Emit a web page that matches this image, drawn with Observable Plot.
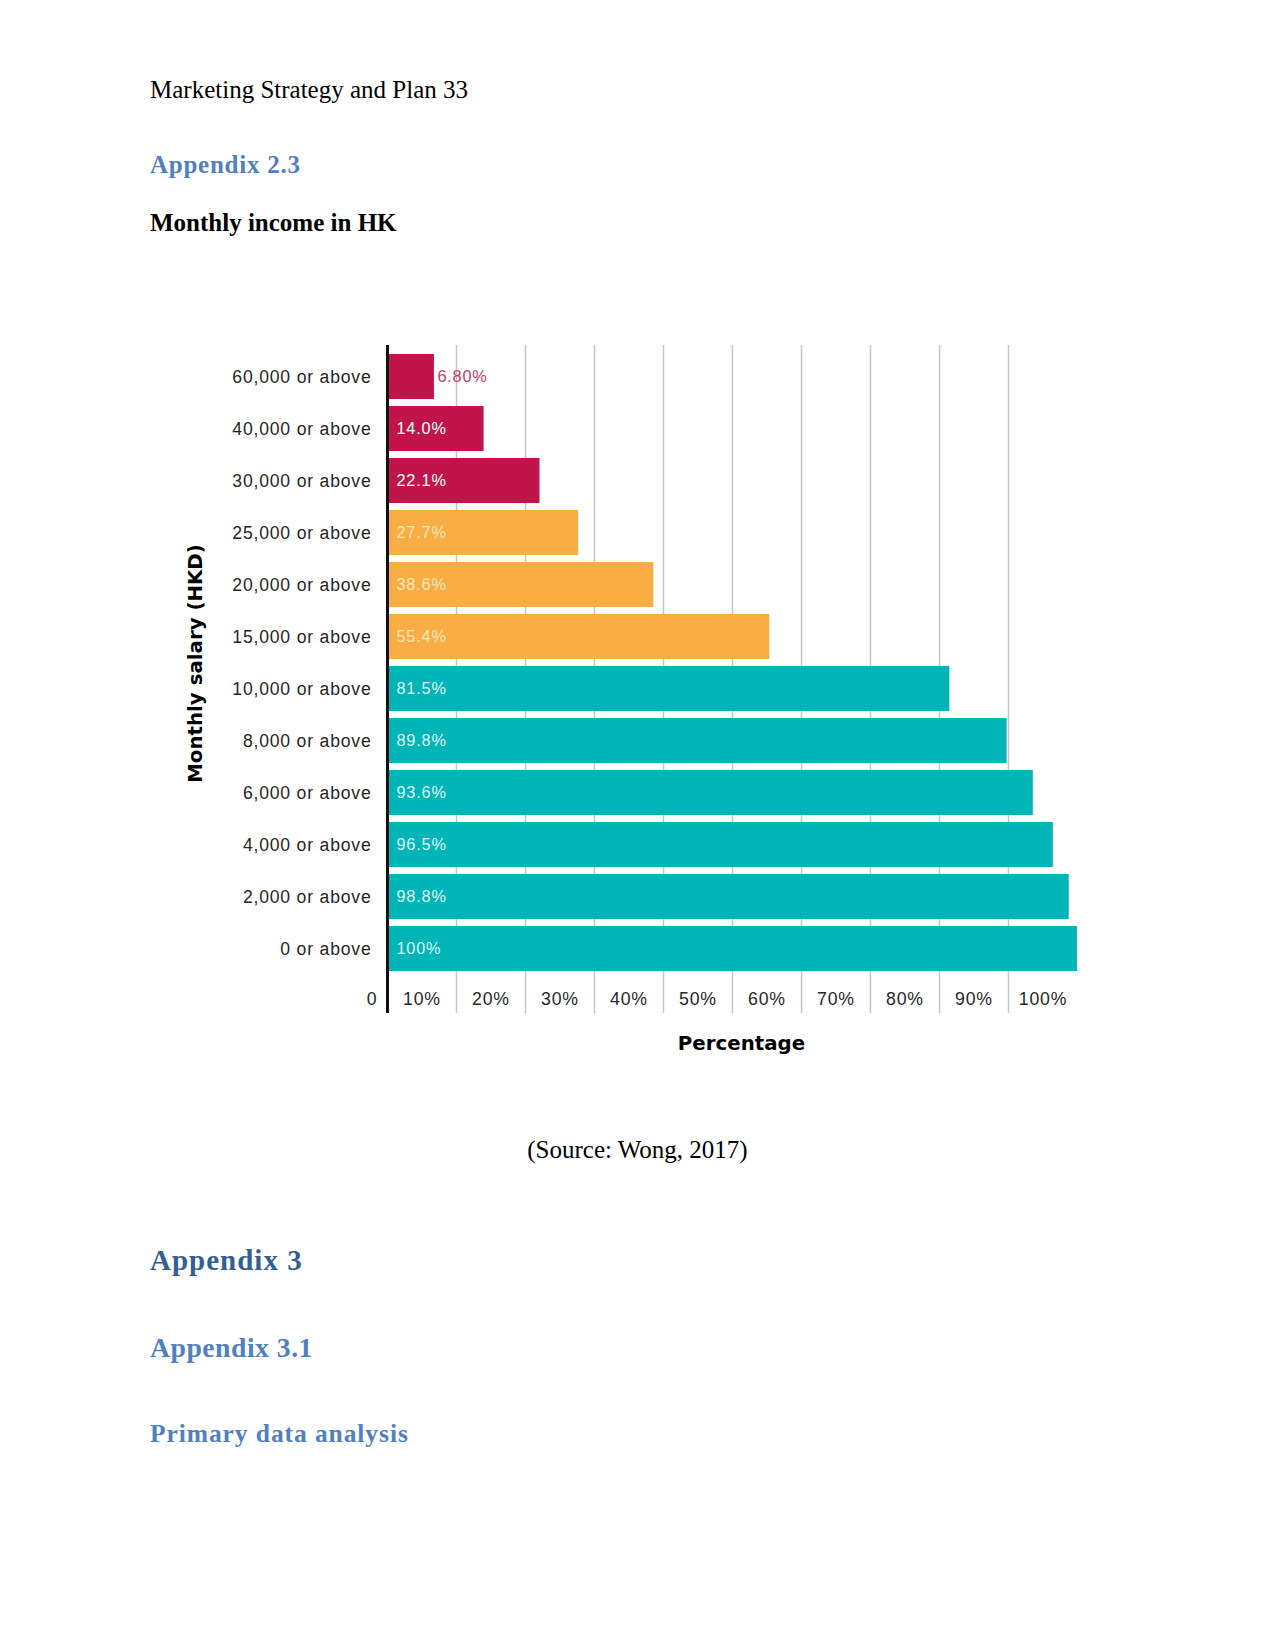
<!DOCTYPE html>
<html>
<head>
<meta charset="utf-8">
<script src="https://cdn.jsdelivr.net/npm/d3@7"></script>
<script src="https://cdn.jsdelivr.net/npm/@observablehq/plot@0.6"></script>
<style>
  body { margin: 0; background: #fff; }
  #page { position: relative; width: 1275px; height: 1651px; overflow: hidden; background: #fff; }
  .t { position: absolute; left: 150px; line-height: 1; white-space: nowrap;
       font-family: "Liberation Serif", "Times New Roman", serif; color: #000; }
  .h { font-weight: bold; }
  #chart { position: absolute; left: 0; top: 300px; }
</style>
</head>
<body>
<div id="page">
  <div class="t" style="top:77.4px;font-size:25px;">Marketing Strategy and Plan 33</div>
  <div class="t h" style="top:152.4px;font-size:25px;letter-spacing:0.75px;color:#4f81bd;">Appendix 2.3</div>
  <div class="t h" style="top:209.8px;font-size:25px;">Monthly income in HK</div>
  <div id="chart"></div>
  <div class="t" style="top:1137.4px;font-size:25px;left:0;width:1275px;text-align:center;">(Source: Wong, 2017)</div>
  <div class="t h" style="top:1245.7px;font-size:29px;letter-spacing:1px;color:#365f91;">Appendix 3</div>
  <div class="t h" style="top:1333.5px;font-size:27.7px;letter-spacing:0.5px;color:#4f81bd;">Appendix 3.1</div>
  <div class="t h" style="top:1421.3px;font-size:25.5px;letter-spacing:0.92px;color:#4f81bd;">Primary data analysis</div>
</div>
<script>
// ---- data ----
const categories = ["60,000 or above", "40,000 or above", "30,000 or above", "25,000 or above",
  "20,000 or above", "15,000 or above", "10,000 or above", "8,000 or above",
  "6,000 or above", "4,000 or above", "2,000 or above", "0 or above"];
const values = [6.8, 14.0, 22.1, 27.7, 38.6, 55.4, 81.5, 89.8, 93.6, 96.5, 98.8, 100];
const valueLabels = ["6.80%", "14.0%", "22.1%", "27.7%", "38.6%", "55.4%", "81.5%", "89.8%",
  "93.6%", "96.5%", "98.8%", "100%"];
const groups = ["high", "high", "high", "mid", "mid", "mid", "low", "low", "low", "low", "low", "low"];
const gridValues = [10, 20, 30, 40, 50, 60, 70, 80, 90];
const tickValues = [0, 10, 20, 30, 40, 50, 60, 70, 80, 90, 100];
const tickLabels = ["0", "10%", "20%", "30%", "40%", "50%", "60%", "70%", "80%", "90%", "100%"];
const xTitle = "Percentage";
const yTitle = "Monthly salary (HKD)";

// ---- styles ----
const barColor = {high: "#c0144a", mid: "#f9ad42", low: "#00b5b7"};
const labelColor = {high: "#ffffff", mid: "#fde6bd", low: "#dff6f6"};
const outsideLabelColor = "#bf3d68";

const data = categories.map((c, i) => ({category: c, value: values[i], label: valueLabels[i], group: groups[i]}));
const ticks = tickValues.map((v, i) => ({v, label: tickLabels[i]}));

const sans = "'Liberation Sans', Arial, Helvetica, sans-serif";
const heavy = "'DejaVu Sans', sans-serif";

const marks = [
  Plot.ruleX(gridValues, {stroke: "#c6c6c6", strokeWidth: 1.5}),
  Plot.barX(data, {x: "value", y: "category", fill: d => barColor[d.group]}),
  Plot.ruleX([0], {stroke: "#111", strokeWidth: 3}),
  Plot.text(data.filter(d => d.value >= 10), {
    x: 0, y: "category", text: "label", textAnchor: "start", dx: 9,
    fill: d => labelColor[d.group], fontSize: 16.3, fontFamily: sans
  }),
  Plot.text(data.filter(d => d.value < 10), {
    x: "value", y: "category", text: "label", textAnchor: "start", dx: 3,
    fill: outsideLabelColor, fontSize: 16.3, fontFamily: sans
  }),
  Plot.text(ticks.filter(d => d.v === 0), {
    x: "v", text: "label", frameAnchor: "bottom", lineAnchor: "middle", dy: -14, dx: -10, textAnchor: "end",
    fill: "#262626", fontSize: 17.7, fontFamily: sans
  }),
  Plot.text(ticks.filter(d => d.v > 0), {
    x: d => d.v - 5, text: "label", frameAnchor: "bottom", lineAnchor: "middle", dy: -14, textAnchor: "middle",
    fill: "#262626", fontSize: 17.7, fontFamily: sans
  }),
  Plot.text([xTitle], {
    frameAnchor: "bottom", lineAnchor: "middle", textAnchor: "middle", dy: 30, dx: 9, text: d => d,
    fontWeight: "bold", fontSize: 19.8, fontFamily: heavy, fill: "#000"
  }),
  Plot.text([yTitle], {
    frameAnchor: "left", lineAnchor: "middle", textAnchor: "middle", dx: -192, dy: -16, rotate: -90, text: d => d,
    fontWeight: "bold", fontSize: 19.8, fontFamily: heavy, fill: "#000"
  }),
  Plot.axisY({tickSize: 0, tickPadding: 16, fontSize: 17.6, label: null, fill: "#262626", fontFamily: sans})
];

const chart = Plot.plot({
  width: 1275,
  height: 760,
  marginLeft: 387,
  marginRight: 198,
  marginTop: 45,
  marginBottom: 47,
  style: {fontFamily: sans, fontSize: "17px", color: "#262626", background: "transparent"},
  x: {domain: [0, 100], axis: null},
  y: {domain: categories, paddingInner: 0.135, paddingOuter: 0.4904, align: 0.1765},
  marks
});
chart.querySelectorAll("text").forEach(t => {
  const fw = t.getAttribute("font-weight") || (t.parentNode && t.parentNode.getAttribute && t.parentNode.getAttribute("font-weight"));
  t.style.letterSpacing = fw === "bold" ? "0px" : "0.8px";
});
document.getElementById("chart").appendChild(chart);
</script>
</body>
</html>
